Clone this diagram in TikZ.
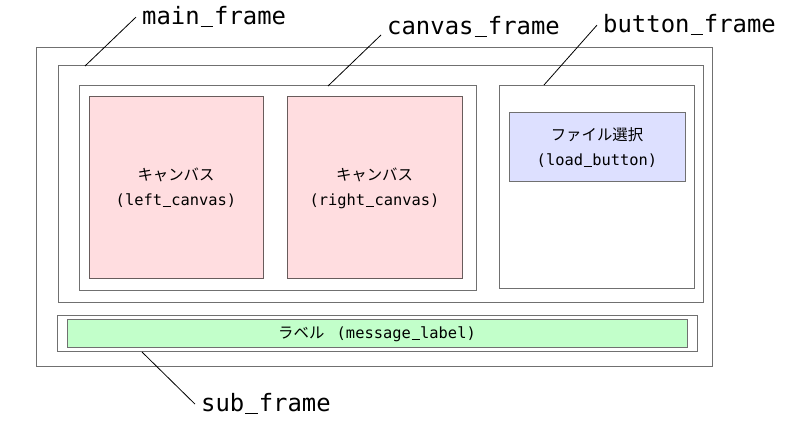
\documentclass[tikz,border=0pt]{standalone}
\usepackage{fontspec}
\setmonofont{DejaVu Sans Mono}
\newfontfamily\jpfont{Noto Sans CJK JP}
\newcommand\usc{\makebox[0.602em]{\rule[-0.1em]{0.52em}{0.07em}}}
\begin{document}
\begin{tikzpicture}[x=1pt,y=-1pt,
    frame/.style={draw=framegray, line width=1pt, fill=white, inner sep=0pt},
    widget/.style={draw=widgetedge, line width=1pt, inner sep=0pt, align=center,
      font=\fontsize{15.4}{25}\selectfont},
    tag/.style={font=\ttfamily\fontsize{23.9}{28}\selectfont, inner xsep=6pt, inner ysep=0pt, anchor=base west},
    leader/.style={draw=black, line width=0.8pt}]
  % Define colors
  \definecolor{framegray}{RGB}{112,112,112}
  \definecolor{widgetedge}{RGB}{104,92,92}
  \definecolor{canvaspink}{RGB}{255,221,224}
  \definecolor{buttonblue}{RGB}{221,224,255}
  \definecolor{labelgreen}{RGB}{194,255,202}

  \useasboundingbox (0,0) rectangle (790,427);

  % Frames
  \node[frame, minimum width=676pt, minimum height=319pt] (root) at (374,207.5) {};
  \node[frame, minimum width=645pt, minimum height=237pt] (mainframe) at (380.5,184.5) {};
  \node[frame, minimum width=397pt, minimum height=205pt] (canvasframe) at (277.5,188.5) {};
  \node[frame, minimum width=195pt, minimum height=203pt] (buttonframe) at (596.5,187.5) {};
  \node[frame, minimum width=640pt, minimum height=36pt] (subframe) at (377,334) {};

  % Widgets
  \node[widget, fill=canvaspink, minimum width=174pt, minimum height=182pt] (leftcanvas) at (176,188)
    {{\jpfont キャンバス}\\{\ttfamily (left\usc canvas)}};
  \node[widget, fill=canvaspink, minimum width=175pt, minimum height=182pt] (rightcanvas) at (374.5,188)
    {{\jpfont キャンバス}\\{\ttfamily (right\usc canvas)}};
  \node[widget, draw=framegray, fill=buttonblue, minimum width=176pt, minimum height=69pt] (loadbutton) at (597,147.5)
    {{\jpfont ファイル選択}\\{\ttfamily (load\usc button)}};
  \node[widget, draw=framegray, fill=labelgreen, minimum width=620pt, minimum height=28pt] (messagelabel) at (377,334)
    {{\jpfont ラベル}\hspace{0.8em}{\ttfamily (message\usc label)}};

  % Names
  \node[tag] (mainlbl) at (136,25) {main\usc frame};
  \node[tag] (canvaslbl) at (381,35) {canvas\usc frame};
  \node[tag] (buttonlbl) at (597,33) {button\usc frame};
  \node[tag] (sublbl) at (195,412) {sub\usc frame};

  % Leader lines
  \coordinate (mainpt) at (85,66);
  \coordinate (canvaspt) at (328,86);
  \coordinate (buttonpt) at (544,85);
  \coordinate (subpt) at (142,352);
  \draw[leader] (mainpt) -- (mainlbl.west);
  \draw[leader] (canvaspt) -- (canvaslbl.base west);
  \draw[leader] (buttonpt) -- (buttonlbl.west);
  \draw[leader] (subpt) -- (sublbl.west);
\end{tikzpicture}
\end{document}
